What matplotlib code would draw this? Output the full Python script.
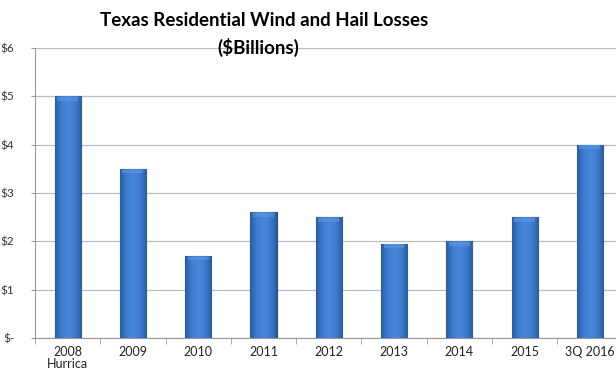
import numpy as np
import matplotlib.pyplot as plt
from matplotlib.colors import LinearSegmentedColormap

plt.rcParams['font.family'] = ['Lato', 'DejaVu Sans']

categories = ['2008\nHurrica', '2009', '2010', '2011', '2012', '2013', '2014', '2015', '3Q 2016']
losses = [5.0, 3.5, 1.7, 2.6, 2.5, 1.95, 2.0, 2.5, 4.0]
y_ticks = [0, 1, 2, 3, 4, 5, 6]
y_labels = ['$-', '$1', '$2', '$3', '$4', '$5', '$6']

fig = plt.figure(figsize=(6.16, 3.79), dpi=100)
ax = fig.add_axes([35 / 616, 41 / 379, 1 - 35 / 616, 290 / 379])

x = np.arange(len(categories))
bars = ax.bar(x, losses, width=0.4, color='#3b76c6', edgecolor='#1f4a85', linewidth=0.8, zorder=3)

# horizontal shading on each bar
cmap = LinearSegmentedColormap.from_list('bar', ['#2a5ca3', '#3f7dcf', '#4887da', '#3f7dcf', '#2a5ca3'])
grad = np.linspace(0, 1, 64).reshape(1, -1)
for b in bars:
    x0, w, h = b.get_x(), b.get_width(), b.get_height()
    im = ax.imshow(grad, cmap=cmap, aspect='auto', extent=[x0, x0 + w, 0, h], zorder=3.5)
    im.set_clip_path(b)
    # light bevel on top
    ax.fill_between([x0 + w * 0.1, x0 + w * 0.9], h - 0.09, h - 0.015, color='#5a93de', alpha=0.7, zorder=4, lw=0)

ax.set_xlim(-0.5, 8.4)
ax.set_ylim(0, 6)
ax.set_yticks(y_ticks)
ax.set_yticklabels(y_labels, fontsize=8.5, color='#333333')
ax.set_xticks(x)
ax.set_xticklabels(categories, fontsize=9, color='#222222', linespacing=0.95)
ax.set_xticks(np.arange(-0.5, 8.5, 1), minor=True)
ax.tick_params(axis='x', which='major', length=0, pad=6)
ax.tick_params(axis='x', which='minor', length=4, color='#999999')
ax.tick_params(axis='y', length=3, color='#999999', pad=12)

ax.grid(axis='y', color='#bbbbbb', linewidth=0.9, zorder=0)
for s in ['top', 'right']:
    ax.spines[s].set_visible(False)
ax.spines['left'].set_color('#999999')
ax.spines['bottom'].set_color('#999999')

fig.text(0.428, 0.945, 'Texas Residential Wind and Hail Losses', ha='center', va='center',
         fontsize=13.5, fontweight='bold', color='black')
fig.text(0.42, 0.875, '($Billions)', ha='center', va='center',
         fontsize=13.5, fontweight='bold', color='black')

fig.savefig('out.png', dpi=100)
